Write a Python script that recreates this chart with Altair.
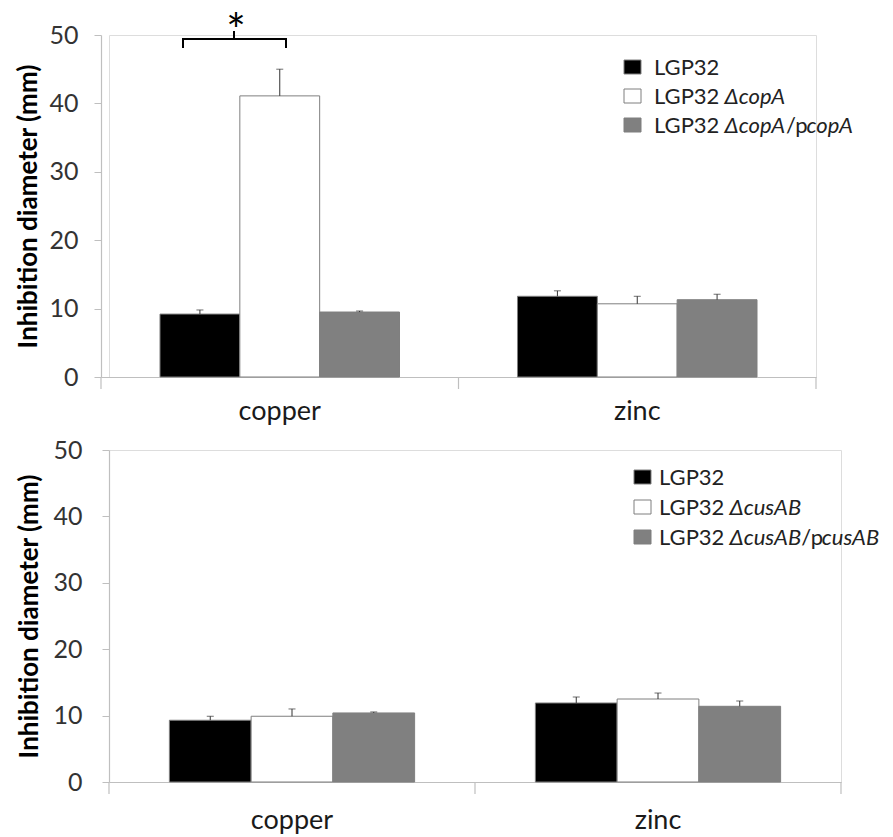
import altair as alt
import pandas as pd

# ---------------- data ----------------
metals = ["copper", "zinc"]
y_ticks = [0, 10, 20, 30, 40, 50]
bar_colors = ["#000000", "#ffffff", "#808080"]

strains_top = ["LGP32", "LGP32 ΔcopA", "LGP32 ΔcopA/pcopA"]
top_means = [9.2, 41.1, 9.5, 11.8, 10.7, 11.3]
top_errs = [0.6, 3.9, 0.15, 0.8, 1.1, 0.8]

strains_bottom = ["LGP32", "LGP32 ΔcusAB", "LGP32 ΔcusAB/pcusAB"]
bottom_means = [9.3, 9.9, 10.4, 11.9, 12.5, 11.4]
bottom_errs = [0.6, 1.1, 0.15, 0.9, 0.9, 0.8]

# legend text pieces: (text, italic)
legend_top = [
    [("LGP32", False)],
    [("LGP32", False), ("ΔcopA", True)],
    [("LGP32", False), ("ΔcopA", True), ("/p", False), ("copA", True)],
]
legend_bottom = [
    [("LGP32", False)],
    [("LGP32", False), ("ΔcusAB", True)],
    [("LGP32", False), ("ΔcusAB", True), ("/p", False), ("cusAB", True)],
]

FONT = "Lato"
AXIS_GRAY = "#bfbfbf"
LEG_SIZE = 22
one = pd.DataFrame({"k": [0]})

UPRIGHT_W = {"L": 0.50, "G": 0.71, "P": 0.59, "3": 0.58, "2": 0.58, "/": 0.37, "p": 0.56}
ITALIC_W = {"Δ": 0.63, "c": 0.45, "o": 0.54, "p": 0.54, "A": 0.63, "u": 0.54, "s": 0.40, "B": 0.61}


def make_df(strains, means, errs):
    rows = []
    i = 0
    for m in metals:
        for s in strains:
            rows.append({"metal": m, "strain": s, "mean": means[i], "upper": means[i] + errs[i]})
            i += 1
    return pd.DataFrame(rows)


def est_width(s, italic):
    table = ITALIC_W if italic else UPRIGHT_W
    return sum(table.get(ch, 0.55) for ch in s) * LEG_SIZE


def panel(strains, means, errs, W, H, shift, label_pad, title_x, xlab_pad, legend,
          leg_x, text_x, leg_y0, leg_dy, bracket=False):
    # `shift`: the drawn axes start `shift` px left of the panel origin
    x0, x1 = -shift, W
    df = make_df(strains, means, errs)
    base = alt.Chart(df)
    x = alt.X(
        "metal:N",
        sort=metals,
        scale=alt.Scale(paddingInner=0.33, paddingOuter=0.165, range=[x0, x1]),
        axis=alt.Axis(
            title=None, labelAngle=0, ticks=False, labelFontSize=27, labelPadding=xlab_pad,
            domainColor=AXIS_GRAY, domainWidth=1.2, labelColor="#1a1a1a", labelFont=FONT,
        ),
    )
    xo = alt.XOffset("strain:N", sort=strains, scale=alt.Scale(paddingInner=0, paddingOuter=0))
    y_axis = alt.Axis(
        values=y_ticks, title="Inhibition diameter (mm)", grid=False, offset=shift,
        labelFontSize=25, labelColor="#333333", labelFont=FONT, labelPadding=label_pad,
        tickColor=AXIS_GRAY, tickSize=7, domainColor=AXIS_GRAY, domainWidth=1.2,
        titleFontSize=26, titleFont=FONT, titleFontWeight="bold", titleColor="#000000",
        titleX=title_x, titleY=H / 2, titleBaseline="middle", titleAlign="center", titleAngle=270,
    )
    y = alt.Y("mean:Q", scale=alt.Scale(domain=[0, 50], nice=False, zero=True), axis=y_axis)
    color = alt.Color("strain:N", sort=strains,
                      scale=alt.Scale(domain=strains, range=bar_colors), legend=None)

    bars = base.mark_bar(stroke="#7f7f7f", strokeWidth=1).encode(x=x, xOffset=xo, y=y, color=color)
    err = base.mark_rule(color="#333333", strokeWidth=1).encode(
        x=x, xOffset=xo, y=alt.Y("mean:Q"), y2="upper:Q")
    cap = base.mark_tick(color="#333333", thickness=1, size=7).encode(
        x=x, xOffset=xo, y=alt.Y("upper:Q"))

    layers = [bars, err, cap]

    # invisible anchor fixing the panel's left extent
    layers.append(alt.Chart(one).mark_rule(color="#ffffff", opacity=0, strokeWidth=1).encode(
        x=alt.value(-100), x2=alt.value(-98), y=alt.value(H / 2)))

    # category separator ticks below the x axis (Excel style)
    for px in [x0, (x0 + x1) / 2, x1]:
        layers.append(alt.Chart(one).mark_rule(color=AXIS_GRAY, strokeWidth=1.2).encode(
            x=alt.value(px), y=alt.value(H), y2=alt.value(H + 12)))

    # manual legend
    for i, pieces in enumerate(legend):
        cy = leg_y0 + i * leg_dy
        layers.append(alt.Chart(one).mark_rect(
            fill=bar_colors[i], stroke="#7f7f7f", strokeWidth=1).encode(
            x=alt.value(leg_x), x2=alt.value(leg_x + 17),
            y=alt.value(cy - 7), y2=alt.value(cy + 7)))
        tx = text_x
        for j, (txt, ital) in enumerate(pieces):
            layers.append(alt.Chart(one).mark_text(
                text=txt, align="left", baseline="middle", fontSize=LEG_SIZE, font=FONT,
                fontStyle="italic" if ital else "normal", color="#222222").encode(
                x=alt.value(tx), y=alt.value(cy + 1)))
            tx += est_width(txt, ital)
            if j == 0:
                tx += 0.25 * LEG_SIZE  # the space after "LGP32"

    if bracket:
        bk = dict(color="#000000", strokeWidth=2)
        bl, br, bc = x0 + 82, x0 + 185, x0 + 133
        layers += [
            alt.Chart(one).mark_rule(**bk).encode(x=alt.value(bl), x2=alt.value(br), y=alt.value(4)),
            alt.Chart(one).mark_rule(**bk).encode(x=alt.value(bl), y=alt.value(3), y2=alt.value(13)),
            alt.Chart(one).mark_rule(**bk).encode(x=alt.value(br), y=alt.value(3), y2=alt.value(13)),
            alt.Chart(one).mark_rule(**bk).encode(x=alt.value(bc), y=alt.value(-4), y2=alt.value(4)),
            alt.Chart(one).mark_text(text="*", fontSize=46, font=FONT, align="center",
                                     baseline="alphabetic", color="#000000").encode(
                x=alt.value(bc + 2), y=alt.value(12)),
        ]

    return alt.layer(*layers).properties(width=W, height=H)


# both panels share the same origin (x = 108 on the page); the upper one's axes start 8 px further left
top = panel(strains_top, top_means, top_errs, 707, 342, 8, 16, -73, 21,
            legend_top, 515, 545, 32, 29, bracket=True)
bottom = panel(strains_bottom, bottom_means, bottom_errs, 732, 332, 0, 20, -80, 25,
               legend_bottom, 525, 550, 27, 30)

chart = alt.concat(top, bottom, columns=1, spacing=12).resolve_scale(
    color="independent", xOffset="independent"
).configure_view(stroke=None).configure(font=FONT).properties(
    padding={"top": 1, "left": 0, "right": 0, "bottom": 0})

chart.save("out.html", embed_options={"renderer": "svg", "actions": False})
